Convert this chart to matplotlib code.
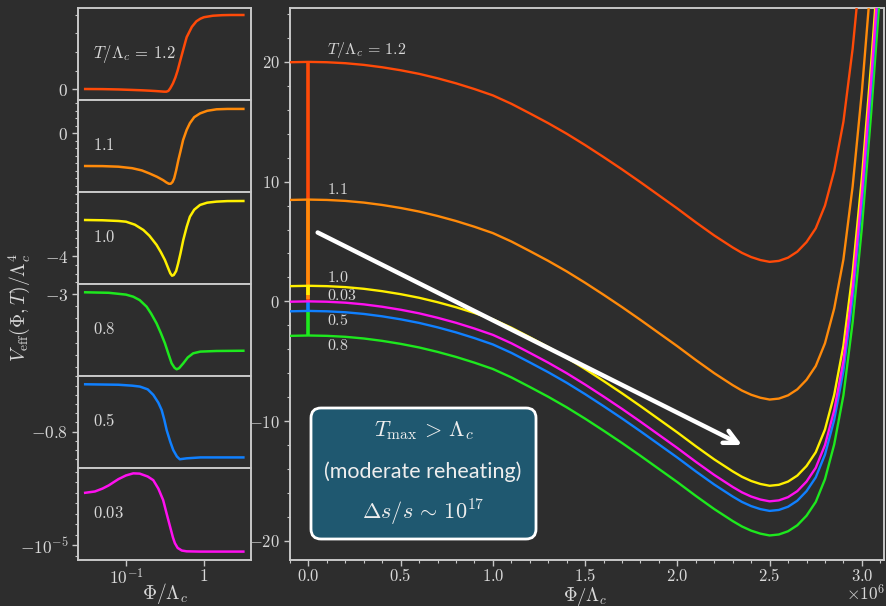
import numpy as np
import matplotlib
matplotlib.use("Agg")
import matplotlib.pyplot as plt
from matplotlib.patches import FancyBboxPatch
from matplotlib.transforms import IdentityTransform
from matplotlib.ticker import MultipleLocator, FixedLocator, FuncFormatter, NullLocator

plt.rcParams['mathtext.fontset'] = 'cm'
plt.rcParams['font.family'] = ['DejaVu Serif']

BG = '#2d2d2d'
FG = '#d8d8d8'
SPINE = '#c8c8c8'

# ---------------- data: main panel (Phi in units of 1e6 Lambda_c) ----------------
phi_main = [-0.1, 0.0, 0.1, 0.2, 0.3, 0.4, 0.5, 0.6, 0.7, 0.8, 0.9, 1.0, 1.1, 1.2, 1.3,
            1.4, 1.5, 1.6, 1.7, 1.8, 1.9, 2.0, 2.1, 2.2, 2.3, 2.35, 2.4, 2.45, 2.5, 2.55,
            2.6, 2.65, 2.7, 2.75, 2.8, 2.85, 2.9, 2.95, 3.0, 3.05, 3.1, 3.15]
v_12 = [19.97, 20, 19.97, 19.89, 19.75, 19.55, 19.3, 19.0, 18.63, 18.21, 17.73, 17.2, 16.5,
        15.7, 14.88, 14.0, 13.05, 12.05, 11.02, 9.95, 8.85, 7.75, 6.6, 5.5, 4.5, 4.05, 3.7,
        3.45, 3.3, 3.38, 3.65, 4.15, 4.95, 6.1, 8.0, 10.9, 15.0, 21.1, 29.0, 38.5, 49.0, 61.0]
v_11 = [8.47, 8.5, 8.47, 8.39, 8.25, 8.05, 7.8, 7.5, 7.13, 6.71, 6.23, 5.7, 5.0, 4.2, 3.38,
        2.5, 1.55, 0.55, -0.48, -1.55, -2.65, -3.75, -4.9, -6.0, -7.0, -7.45, -7.8, -8.05,
        -8.2, -8.12, -7.85, -7.35, -6.55, -5.4, -3.5, -0.6, 3.5, 9.6, 17.5, 27.0, 37.5, 49.5]
v_10 = [1.27, 1.3, 1.27, 1.19, 1.05, 0.85, 0.6, 0.3, -0.07, -0.49, -0.97, -1.5, -2.2, -3.0,
        -3.82, -4.7, -5.65, -6.65, -7.68, -8.75, -9.85, -10.95, -12.1, -13.2, -14.2, -14.65,
        -15.0, -15.25, -15.4, -15.32, -15.05, -14.55, -13.75, -12.6, -10.7, -7.8, -3.7, 2.4,
        10.3, 19.8, 30.3, 42.3]
v_08 = [-2.88, -2.85, -2.88, -2.96, -3.1, -3.3, -3.55, -3.85, -4.22, -4.64, -5.12, -5.65,
        -6.35, -7.15, -7.97, -8.85, -9.8, -10.8, -11.83, -12.9, -14.0, -15.1, -16.25, -17.35,
        -18.35, -18.8, -19.15, -19.4, -19.55, -19.47, -19.2, -18.7, -17.9, -16.75, -14.85,
        -11.95, -7.85, -1.75, 6.15, 15.65, 26.15, 38.15]
v_05 = [-0.83, -0.8, -0.83, -0.91, -1.05, -1.25, -1.5, -1.8, -2.17, -2.59, -3.07, -3.6, -4.3,
        -5.1, -5.92, -6.8, -7.75, -8.75, -9.78, -10.85, -11.95, -13.05, -14.2, -15.3, -16.3,
        -16.75, -17.1, -17.35, -17.5, -17.42, -17.15, -16.65, -15.85, -14.7, -12.8, -9.9,
        -5.8, 0.3, 8.2, 17.7, 28.2, 40.2]
v_003 = [-0.03, 0, -0.03, -0.11, -0.25, -0.45, -0.7, -1.0, -1.37, -1.79, -2.27, -2.8, -3.5,
         -4.3, -5.12, -6.0, -6.95, -7.95, -8.98, -10.05, -11.15, -12.25, -13.4, -14.5, -15.5,
         -15.95, -16.3, -16.55, -16.7, -16.62, -16.35, -15.85, -15.05, -13.9, -12.0, -9.1,
         -5.0, 1.1, 9.0, 18.5, 29.0, 41.0]
# value reached at Phi -> 0 (vertical segment at Phi = 0 on the 1e6 scale)
stem_end = {'1.2': 0.0, '1.1': 0.2, '1.0': 0.5, '0.8': -0.8, '0.5': 0.0}

# ---------------- data: small-field panels (Phi / Lambda_c) ----------------
phi1 = [0.03, 0.05, 0.08, 0.12, 0.16, 0.2, 0.24, 0.28, 0.31, 0.33, 0.35, 0.37, 0.4, 0.43,
        0.46, 0.5, 0.55, 0.6, 0.7, 0.8, 0.9, 1.0, 1.3, 1.7, 2.2, 3.2]
v1 = [0.0, -0.03, -0.12, -0.25, -0.35, -0.45, -0.55, -0.65, -0.72, -0.72, -0.5, 0.2, 1.5,
      3.1, 5.0, 7.9, 11.1, 14.0, 16.8, 18.3, 19.0, 19.4, 19.8, 19.95, 20.0, 20.0]
phi2 = [0.03, 0.05, 0.08, 0.12, 0.16, 0.2, 0.25, 0.3, 0.33, 0.355, 0.375, 0.395, 0.415,
        0.44, 0.47, 0.5, 0.54, 0.6, 0.66, 0.75, 0.89, 1.1, 1.45, 2.0, 3.2]
v2 = [-8.72, -8.75, -8.9, -9.3, -9.9, -10.7, -11.6, -12.5, -13.1, -13.45, -13.45, -13.0,
      -12.0, -9.9, -7.1, -4.8, -1.8, 0.9, 2.7, 4.3, 5.3, 6.0, 6.4, 6.5, 6.5]
phi3 = [0.03, 0.05, 0.08, 0.1, 0.13, 0.167, 0.2, 0.247, 0.28, 0.316, 0.35, 0.37, 0.39,
        0.41, 0.44, 0.467, 0.5, 0.543, 0.6, 0.66, 0.75, 0.89, 1.1, 1.45, 2.0, 3.2]
v3 = [-1.955, -1.97, -2.01, -2.05, -2.22, -2.52, -2.85, -3.37, -3.78, -4.23, -4.72, -4.98,
      -5.12, -5.08, -4.85, -4.42, -3.85, -3.09, -2.35, -1.77, -1.37, -1.10, -0.97, -0.91,
      -0.88, -0.875]
phi4 = [0.03, 0.06, 0.1, 0.124, 0.15, 0.184, 0.21, 0.247, 0.28, 0.316, 0.35, 0.385, 0.42,
        0.447, 0.48, 0.543, 0.62, 0.728, 0.9, 1.45, 3.2]
v4 = [-2.986, -2.99, -3.005, -3.022, -3.05, -3.104, -3.16, -3.241, -3.32, -3.404, -3.49,
      -3.568, -3.605, -3.617, -3.608, -3.568, -3.52, -3.486, -3.472, -3.467, -3.465]
phi5 = [0.03, 0.08, 0.12, 0.151, 0.19, 0.224, 0.26, 0.287, 0.31, 0.333, 0.37, 0.404, 0.45,
        0.49, 0.6, 0.9, 1.45, 3.2]
v5 = [-0.697, -0.698, -0.700, -0.702, -0.708, -0.720, -0.737, -0.753, -0.774, -0.797,
      -0.822, -0.840, -0.854, -0.860, -0.858, -0.856, -0.856, -0.856]
phi6 = [0.03, 0.04, 0.05, 0.06, 0.08, 0.1, 0.124, 0.15, 0.19, 0.224, 0.26, 0.3, 0.33,
        0.367, 0.4, 0.424, 0.46, 0.52, 0.6, 0.9, 3.2]
v6_e6 = [0.0, 0.25, 0.8, 1.4, 2.6, 3.3, 3.7, 3.65, 3.1, 2.4, 0.8, -1.4, -3.8, -6.4, -8.5,
         -9.6, -10.5, -11.0, -11.15, -11.2, -11.2]   # in units of 1e-6

colors = {'1.2': '#ff4a08', '1.1': '#ff8a0a', '1.0': '#fff000', '0.8': '#1ee81e',
          '0.5': '#1080ff', '0.03': '#ff10f0'}

# ---------------- figure ----------------
fig = plt.figure(figsize=(8.86, 6.06), dpi=100, facecolor=BG)
W, H = 886.0, 606.0


def style(ax):
    ax.set_facecolor(BG)
    for s in ax.spines.values():
        s.set_color(SPINE)
        s.set_linewidth(1.4)
    ax.tick_params(which='both', colors=SPINE, labelcolor=FG, direction='out')
    ax.tick_params(which='major', length=4, width=1.0, labelsize=12)
    ax.tick_params(which='minor', length=2.5, width=0.8)


def mfmt(fmt):
    return FuncFormatter(lambda v, p: '$' + (fmt % v) + '$')


# ---- main axes ----
ax = fig.add_axes([290 / W, 1 - 560 / H, 594 / W, 552 / H])
style(ax)
main_series = [('1.2', v_12), ('1.1', v_11), ('1.0', v_10), ('0.8', v_08),
               ('0.5', v_05), ('0.03', v_003)]
for key, vals in main_series:
    ax.plot(phi_main, vals, color=colors[key], lw=1.7, solid_joinstyle='round', zorder=3)
    if key in stem_end:
        ax.vlines(0.0, min(vals[1], stem_end[key]), max(vals[1], stem_end[key]),
                  color=colors[key], lw=2.6, zorder=3)
ax.set_xlim(-0.1, 3.12)
ax.set_ylim(-21.6, 24.5)
ax.xaxis.set_major_locator(MultipleLocator(0.5))
ax.xaxis.set_minor_locator(MultipleLocator(0.1))
ax.yaxis.set_major_locator(MultipleLocator(10))
ax.yaxis.set_minor_locator(MultipleLocator(2))
ax.xaxis.set_major_formatter(mfmt('%.1f'))
ax.yaxis.set_major_formatter(mfmt('%d'))
ax.tick_params(axis='x', pad=2)

lab_kw = dict(color=FG, fontsize=11.5, va='center', ha='left', zorder=4)
ax.text(0.1, 21.0, r'$T/\Lambda_c \,=\, 1.2$', **lab_kw)
ax.text(0.1, 9.33, r'$1.1$', **lab_kw)
ax.text(0.1, 2.03, r'$1.0$', **lab_kw)
ax.text(0.1, 0.53, r'$0.03$', **lab_kw)
ax.text(0.1, -1.58, r'$0.5$', **lab_kw)
ax.text(0.1, -3.72, r'$0.8$', **lab_kw)

ax.annotate('', xy=(2.35, -12.0), xytext=(0.05, 5.75),
            arrowprops=dict(arrowstyle='->', color='white', lw=3.2, mutation_scale=24,
                            shrinkA=0, shrinkB=0), zorder=5)

# text box
box = FancyBboxPatch((311, H - 539), 225, 131, boxstyle='round,pad=0,rounding_size=10',
                     transform=IdentityTransform(), facecolor='#1f5870',
                     edgecolor='white', lw=2.0, zorder=6)
fig.add_artist(box)
fig.text(424 / W, 1 - 431 / H, r'$T_{\rm max} \,>\, \Lambda_c$', color='#eeeeee',
         fontsize=16, ha='center', va='center', zorder=7)
fig.text(423 / W, 1 - 472 / H, '(moderate reheating)', color='#eeeeee',
         fontsize=15.5, ha='center', va='center', family='Lato', zorder=7)
fig.text(423 / W, 1 - 513 / H, r'$\Delta s/s \,\sim\, 10^{17}$', color='#eeeeee',
         fontsize=16, ha='center', va='center', zorder=7)

# ---- small-field panels ----
panels = [
    (phi1, v1, '1.2', r'$T/\Lambda_c \,=\, 1.2$', 0.0, r'$0$', 5, (-2.97, 21.89)),
    (phi2, v2, '1.1', r'$1.1$', 0.0, r'$0$', 2, (-15.65, 8.88)),
    (phi3, v3, '1.0', r'$1.0$', -4.0, r'$-4$', 0.5, (-5.59, -0.364)),
    (phi4, v4, '0.8', r'$0.8$', -3.0, r'$-3$', 0.1, (-3.672, -2.918)),
    (phi5, v5, '0.5', r'$0.5$', -0.8, r'$-0.8$', 0.02, (-0.879, -0.679)),
    (phi6, list(np.array(v6_e6) * 1e-6), '0.03', r'$0.03$', -1e-5, r'$-10^{-5}$', 2e-6,
     (-12.8e-6, 4.72e-6)),
]
top = 8
for i, (ph, vv, key, label, major, mlabel, minor, ylim) in enumerate(panels):
    y0 = top + 92 * i
    pax = fig.add_axes([78 / W, 1 - (y0 + 92) / H, 173 / W, 92 / H])
    style(pax)
    pax.plot(ph, vv, color=colors[key], lw=1.8, solid_joinstyle='round', zorder=3)
    pax.set_xscale('log')
    pax.set_xlim(0.02427, 4.01)
    pax.set_ylim(*ylim)
    pax.xaxis.set_major_locator(FixedLocator([0.1, 1.0]))
    pax.xaxis.set_minor_locator(NullLocator())
    pax.yaxis.set_major_locator(FixedLocator([major]))
    pax.yaxis.set_minor_locator(MultipleLocator(minor))
    pax.set_yticklabels([mlabel])
    pax.tick_params(axis='y', labelsize=12.5, pad=3)
    if i < 5:
        pax.tick_params(axis='x', labelbottom=False)
    else:
        pax.set_xticklabels([r'$10^{-1}$', r'$1$'])
        pax.tick_params(axis='x', labelsize=12.5, pad=2)
    pax.text(0.087, 0.5, label, transform=pax.transAxes, color=FG, fontsize=12,
             ha='left', va='center')

# axis labels
fig.text(19 / W, 1 - 308 / H, r'$V_{\rm eff}(\Phi,T)/\Lambda_c^4$', rotation=90,
         color=FG, fontsize=14, ha='center', va='center')
fig.text(165 / W, 1 - 593 / H, r'$\Phi/\Lambda_c$', color=FG, fontsize=14,
         ha='center', va='center')
fig.text(585 / W, 1 - 597 / H, r'$\Phi/\Lambda_c$', color=FG, fontsize=13.5,
         ha='center', va='center')
fig.text(866 / W, 1 - 594 / H, r'$\times10^{6}$', color=FG, fontsize=12.5,
         ha='center', va='center')

fig.savefig('out.png', dpi=100, facecolor=BG)
